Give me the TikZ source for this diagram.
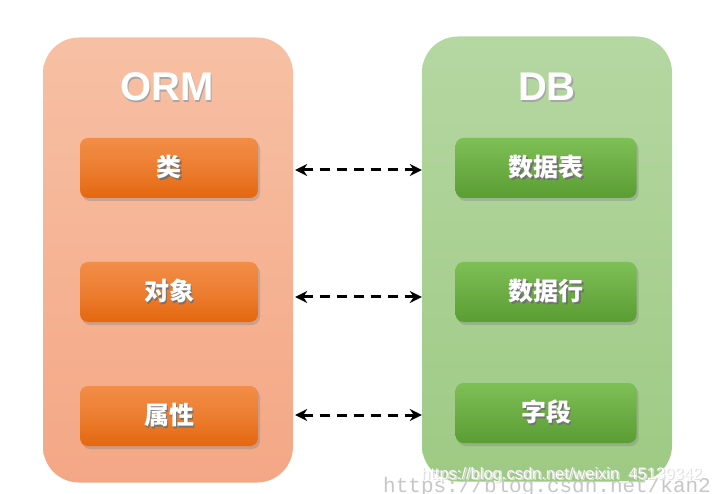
\documentclass[tikz,border=0pt]{standalone}
\usepackage{fontspec}
\setmainfont{Liberation Sans}
\newfontfamily\cjk{Noto Sans CJK SC}
\newfontfamily\wmmono{Liberation Mono}
\usepackage{xcolor}
\usetikzlibrary{arrows.meta,shadows,positioning}

\definecolor{ormtop}{HTML}{F7C0A4}
\definecolor{ormbot}{HTML}{F4A785}
\definecolor{dbtop}{HTML}{B5D7A2}
\definecolor{dbbot}{HTML}{9ECA84}
\definecolor{boxotop}{HTML}{F28D47}
\definecolor{boxobot}{HTML}{E4670F}
\definecolor{boxgtop}{HTML}{7EBF56}
\definecolor{boxgbot}{HTML}{5A9D33}

% white text with a soft dark shadow
\newcommand\shadowed[2][black!55]{\rlap{\hspace{1.5pt}\raisebox{-1.8pt}{\color{#1}#2}}#2}

\begin{document}
\begin{tikzpicture}[x=1pt,y=-1pt,
  panel/.style={rounded corners=36pt,minimum width=250pt,minimum height=445pt,inner sep=0pt},
  ormpanel/.style={panel,top color=ormtop,bottom color=ormbot},
  dbpanel/.style={panel,top color=dbtop,bottom color=dbbot},
  title/.style={text=white,font=\fontsize{40}{44}\selectfont\bfseries},
  item/.style={rounded corners=8pt,minimum height=60pt,inner sep=0pt,text=white,
    font=\cjk\fontsize{25}{27}\selectfont\bfseries,
    drop shadow={shadow xshift=2pt,shadow yshift=-3pt,opacity=0.35}},
  ormitem/.style={item,minimum width=178pt,top color=boxotop,bottom color=boxobot,middle color=boxotop!60!boxobot},
  dbitem/.style={item,minimum width=181pt,top color=boxgtop,bottom color=boxgbot},
  link/.style={line width=3pt,dash pattern=on 10pt off 7pt,{Stealth[length=12pt,width=12pt]}-{Stealth[length=12pt,width=12pt]}}]
\useasboundingbox (0,0) rectangle (712,494);
\fill[white] (0,0) rectangle (712,494);

% two columns
\node[ormpanel] (orm) at (168,260) {};
\node[dbpanel] (db) at (547,259) {};
\node[title] (ormtitle) at (167,88) {\shadowed[black!35]{ORM}};
\node[title] (dbtitle) at (547,88) {\shadowed[black!35]{DB}};

% rows
\node[ormitem] (cls) at (169,168) {\shadowed{类}};
\node[ormitem] (obj) at (169,292) {\shadowed{对象}};
\node[ormitem] (attr) at (169,416) {\shadowed{属性}};
\node[dbitem] (tbl) at (546,168) {\shadowed{数据表}};
\node[dbitem] (row) at (546,292) {\shadowed{数据行}};
\node[dbitem] (fld) at (546,413) {\shadowed{字段}};

\draw[link] (cls.east -| orm.east) ++(2,2) -- ([yshift=-2pt]tbl.west -| db.west);
\draw[link] ([yshift=-5pt]obj.east -| orm.east) ++(2,0) -- ([yshift=-5pt]row.west -| db.west);
\draw[link] ([yshift=1pt]attr.east -| orm.east) ++(2,0) -- ([yshift=-2pt]fld.west -| db.west);

% watermarks
\node[anchor=base west,inner sep=0pt,text=black!22,font=\wmmono\fontsize{21}{21}\selectfont] (wm1) at (383,492) {https://blog.csdn.net/kan20};
\node[anchor=base west,inner sep=0pt,text=white,font=\fontsize{16.5}{16.5}\selectfont] (wm2) at (421,479) {\shadowed[black!12]{https://blog.csdn.net/weixin\_45139342}};
\end{tikzpicture}
\end{document}
